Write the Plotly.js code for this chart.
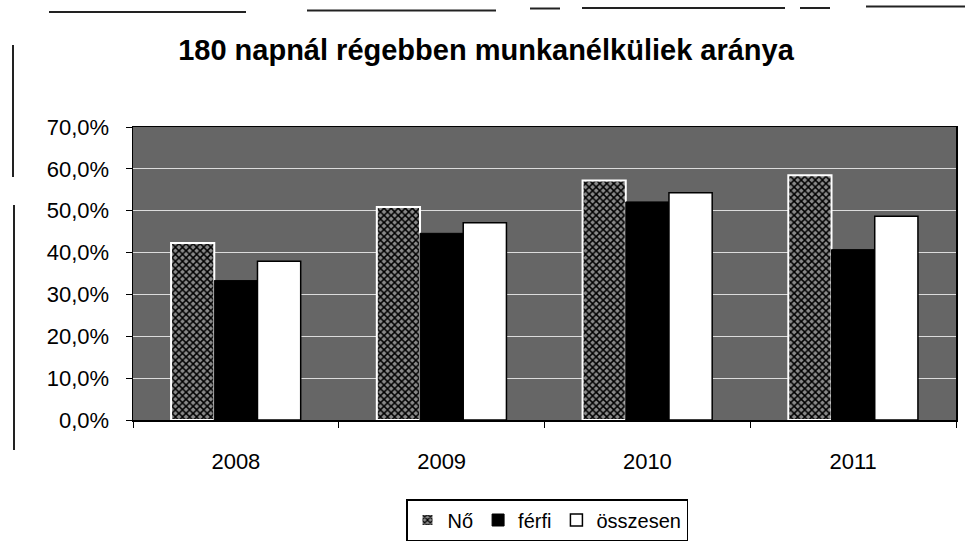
<!DOCTYPE html>
<html>
<head>
<meta charset="utf-8">
<script src="https://cdn.plot.ly/plotly-3.0.1.min.js"></script>
<style>html,body{margin:0;padding:0;background:#fff;}#chart{width:965px;height:543px;}</style>
</head>
<body>
<div id="chart"></div>
<script>
var years = ['2008', '2009', '2010', '2011'];
var seriesNames = ['Nő', 'férfi', 'összesen'];
var no = [42.3, 50.9, 57.2, 58.5];
var ferfi = [33.3, 44.6, 52.1, 40.7];
var osszesen = [37.9, 47.1, 54.3, 48.7];
var yTicks = [0, 10, 20, 30, 40, 50, 60, 70];
var yTickText = yTicks.map(function (v) { return v.toFixed(1).replace('.', ',') + '%'; });

var L = 133, R = 956, T = 127, B = 420;
function px(x) { return (x - L) / (R - L); }
function py(y) { return (B - y) / (B - T); }

var traces = [
  {type: 'bar', name: seriesNames[0], x: years, y: no,
   marker: {color: '#6a6a6a', line: {color: '#ffffff', width: 2},
            pattern: {shape: 'x', fgcolor: '#000', bgcolor: '#8a8a8a', size: 5, solidity: 0.5}}},
  {type: 'bar', name: seriesNames[1], x: years, y: ferfi,
   marker: {color: '#000000', line: {color: '#000000', width: 1}}},
  {type: 'bar', name: seriesNames[2], x: years, y: osszesen,
   marker: {color: '#ffffff', line: {color: '#000000', width: 1.5}}}
];

var lineStyle = {color: '#222', width: 2};
var shapes = [
  {type: 'line', xref: 'paper', yref: 'paper', x0: px(49), x1: px(246), y0: py(12), y1: py(12), line: lineStyle},
  {type: 'line', xref: 'paper', yref: 'paper', x0: px(307), x1: px(496), y0: py(10.5), y1: py(10.5), line: lineStyle},
  {type: 'line', xref: 'paper', yref: 'paper', x0: px(530), x1: px(560), y0: py(8.5), y1: py(8.5), line: lineStyle},
  {type: 'line', xref: 'paper', yref: 'paper', x0: px(582), x1: px(785), y0: py(8), y1: py(8), line: lineStyle},
  {type: 'line', xref: 'paper', yref: 'paper', x0: px(800), x1: px(830), y0: py(8), y1: py(8), line: lineStyle},
  {type: 'line', xref: 'paper', yref: 'paper', x0: px(866), x1: px(965), y0: py(6.5), y1: py(6.5), line: lineStyle},
  {type: 'line', xref: 'paper', yref: 'paper', x0: px(13), x1: px(13), y0: py(45), y1: py(177), line: lineStyle},
  {type: 'line', xref: 'paper', yref: 'paper', x0: px(14), x1: px(14), y0: py(205), y1: py(450), line: lineStyle}
];

var layout = {
  width: 965, height: 543,
  margin: {l: L, r: 965 - R, t: T, b: 543 - B, pad: 0},
  paper_bgcolor: '#ffffff',
  plot_bgcolor: '#666666',
  font: {family: 'Liberation Sans, Arial, sans-serif', color: '#000'},
  title: {text: '<b>180 napnál régebben munkanélküliek aránya</b>',
          font: {size: 29, color: '#000', family: 'Liberation Sans, Arial, sans-serif'},
          x: 486 / 965, xref: 'container', xanchor: 'center', y: 1 - 50 / 543, yref: 'container', yanchor: 'middle'},
  barmode: 'group', bargap: 0.37, bargroupgap: 0,
  xaxis: {type: 'category', tickson: 'boundaries', ticks: 'outside', ticklen: 6, tickcolor: '#000',
          showline: true, linecolor: '#000', linewidth: 1.5, mirror: true, showgrid: false,
          tickfont: {size: 22}, ticklabelstandoff: 21, automargin: false},
  yaxis: {range: [0, 70], tickvals: yTicks, ticktext: yTickText,
          ticks: 'outside', ticklen: 6, tickcolor: '#000', showline: true, linecolor: '#000', linewidth: 1.5, mirror: true,
          showgrid: true, gridcolor: '#dcdcdc', gridwidth: 1, zeroline: false, tickfont: {size: 22},
          ticklabelstandoff: 12, automargin: false},
  showlegend: true,
  legend: {orientation: 'h', xref: 'container', yref: 'container', x: 547 / 965, xanchor: 'center',
           y: 1 - 499 / 543, yanchor: 'top',
           bordercolor: '#000', borderwidth: 1.5, bgcolor: '#fff', font: {size: 20},
           itemwidth: 30, traceorder: 'normal'},
  shapes: shapes
};

Plotly.newPlot('chart', traces, layout, {staticPlot: true, displayModeBar: false});
</script>
</body>
</html>
